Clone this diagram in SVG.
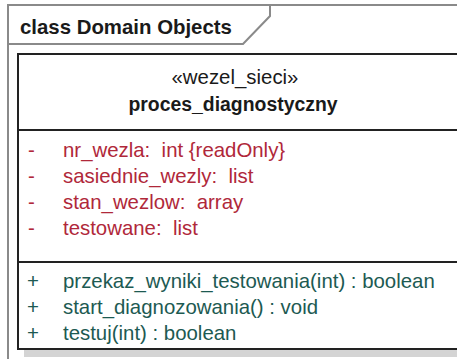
<svg xmlns="http://www.w3.org/2000/svg" width="457" height="359" viewBox="0 0 457 359">
<style>
.frame{fill:none;stroke:#8a8a8a;stroke-width:2}
.box{fill:#fff;stroke:#222;stroke-width:2}
.div{stroke:#222;stroke-width:2}
.t{font-family:"Liberation Sans",Arial,sans-serif;font-size:20.4px}
.b{font-weight:bold;fill:#1a1a1a}
.attr{fill:#b0283a}
.op{fill:#1d5a52}
</style>
<rect width="457" height="359" fill="#fff"/>
<g id="frame">
<path class="frame" d="M8,359 V5 H457"/>
<path class="frame" d="M8,44 H243 L270,16 V5"/>
<text class="t b" x="20" y="34">class Domain Objects</text>
</g>
<g id="proces_diagnostyczny">
<rect x="24" y="350" width="433" height="7" fill="#d4d4d4"/>
<line x1="456" y1="60" x2="456" y2="350" stroke="#9a9a9a" stroke-width="2"/>
<rect class="box" x="18" y="54" width="450" height="295"/>
<line class="div" x1="18" y1="130" x2="457" y2="130"/>
<line class="div" x1="18" y1="262" x2="457" y2="262"/>
<text class="t" x="235" y="84" text-anchor="middle" fill="#1a1a1a">«wezel_sieci»</text>
<text class="t b" x="233" y="111" text-anchor="middle" style="font-size:19.4px">proces_diagnostyczny</text>
<g class="t attr">
<text x="28" y="157">-</text><text x="63" y="157">nr_wezla:&#160; int {readOnly}</text>
<text x="28" y="183">-</text><text x="63" y="183">sasiednie_wezly:&#160; list</text>
<text x="28" y="209">-</text><text x="63" y="209">stan_wezlow:&#160; array</text>
<text x="28" y="235">-</text><text x="63" y="235">testowane:&#160; list</text>
</g>
<g class="t op">
<text x="27" y="288">+</text><text x="63" y="288">przekaz_wyniki_testowania(int) : boolean</text>
<text x="27" y="314">+</text><text x="63" y="314">start_diagnozowania() : void</text>
<text x="27" y="340">+</text><text x="63" y="340">testuj(int) : boolean</text>
</g>
</g>
</svg>
